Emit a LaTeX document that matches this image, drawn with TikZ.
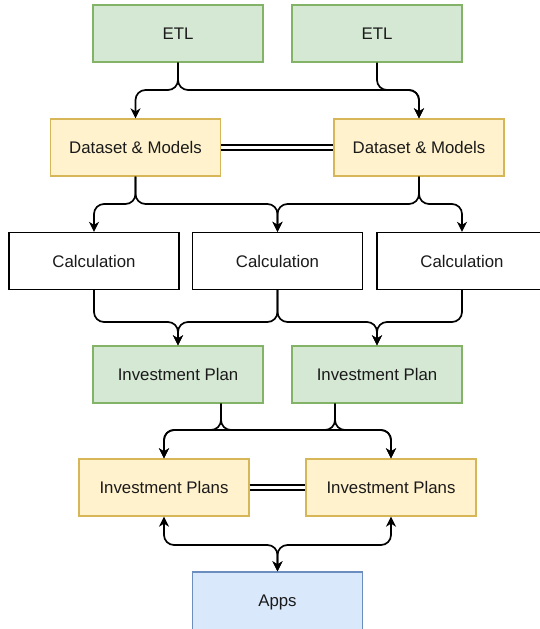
\documentclass[tikz,border=0pt]{standalone}
\usepackage{fontspec}
\setmainfont{Liberation Sans}
\usetikzlibrary{arrows.meta}

\definecolor{greenfill}{HTML}{D5E8D4}
\definecolor{greenline}{HTML}{82B366}
\definecolor{yellowfill}{HTML}{FFF2CC}
\definecolor{yellowline}{HTML}{D6B656}
\definecolor{bluefill}{HTML}{DAE8FC}
\definecolor{blueline}{HTML}{6C8EBF}
\definecolor{ink}{HTML}{1A1A1A}

\tikzset{
  box/.style={draw, line width=1.3pt, minimum width=170pt, minimum height=57pt,
    inner sep=0pt, text=ink, font=\fontsize{16.8}{20}\selectfont},
  greenbox/.style={box, fill=greenfill, draw=greenline},
  yellowbox/.style={box, fill=yellowfill, draw=yellowline},
  bluebox/.style={box, fill=bluefill, draw=blueline},
  plainbox/.style={box, fill=white, draw=black},
  conn/.style={line width=1.7pt, rounded corners=10pt,
    -{Stealth[length=10pt,width=10pt,inset=3pt]}},
  bothconn/.style={conn, {Stealth[length=10pt,width=10pt,inset=3pt]}-{Stealth[length=10pt,width=10pt,inset=3pt]}},
  link/.style={double, double distance=3.6pt, line width=1.6pt}
}

\begin{document}
\begin{tikzpicture}[x=1pt, y=-1pt]
  \useasboundingbox (0,0) rectangle (540,629);

  % sources
  \node[greenbox] (etl1) at (178,33.5) {ETL};
  \node[greenbox] (etl2) at (377,33.5) {ETL};

  % datasets
  \node[yellowbox] (ds1) at (135.5,147.5) {Dataset \& Models};
  \node[yellowbox] (ds2) at (419,147.5) {Dataset \& Models};

  % calculations
  \node[plainbox] (calc1) at (94,261) {Calculation};
  \node[plainbox] (calc2) at (277.5,261) {Calculation};
  \node[plainbox] (calc3) at (462,261) {Calculation};

  % investment plans
  \node[greenbox] (ip1) at (178,374.5) {Investment Plan};
  \node[greenbox] (ip2) at (377,374.5) {Investment Plan};
  \node[yellowbox] (ips1) at (164,487.5) {Investment Plans};
  \node[yellowbox] (ips2) at (391,487.5) {Investment Plans};

  % consumers
  \node[bluebox, minimum height=61pt] (apps) at (277.5,602.5) {Apps};

  % ETL -> datasets
  \draw[conn] (etl1.south) -- (etl1.south |- 0,90) -| (ds1.north);
  \draw[conn] (etl1.south) -- (etl1.south |- 0,90) -| (ds2.north);
  \draw[conn] (etl2.south) -- (etl2.south |- 0,90) -| (ds2.north);

  % datasets kept in sync
  \draw[link] (ds1.east) -- (ds2.west);

  % datasets -> calculations
  \draw[conn] (ds1.south) -- (ds1.south |- 0,204) -| (calc1.north);
  \draw[conn] (ds1.south) -- (ds1.south |- 0,204) -| (calc2.north);
  \draw[conn] (ds2.south) -- (ds2.south |- 0,204) -| (calc2.north);
  \draw[conn] (ds2.south) -- (ds2.south |- 0,204) -| (calc3.north);

  % calculations -> investment plan
  \draw[conn] (calc1.south) -- (calc1.south |- 0,322) -| (ip1.north);
  \draw[conn] (calc2.south) -- (calc2.south |- 0,322) -| (ip1.north);
  \draw[conn] (calc2.south) -- (calc2.south |- 0,322) -| (ip2.north);
  \draw[conn] (calc3.south) -- (calc3.south |- 0,322) -| (ip2.north);

  % investment plan -> collected plans
  \coordinate (ip1out) at ([xshift=43pt]ip1.south);
  \coordinate (ip2out) at ([xshift=-42pt]ip2.south);
  \draw[conn] (ip1out) -- (ip1out |- 0,430) -| (ips1.north);
  \draw[conn] (ip1out) -- (ip1out |- 0,430) -| (ips2.north);
  \draw[conn] (ip2out) -- (ip2out |- 0,430) -| (ips1.north);
  \draw[conn] (ip2out) -- (ip2out |- 0,430) -| (ips2.north);

  % collected plans kept in sync
  \draw[link] (ips1.east) -- (ips2.west);

  % collected plans <-> apps
  \draw[bothconn] (apps.north) -- (apps.north |- 0,545) -| (ips1.south);
  \draw[bothconn] (apps.north) -- (apps.north |- 0,545) -| (ips2.south);
\end{tikzpicture}
\end{document}
